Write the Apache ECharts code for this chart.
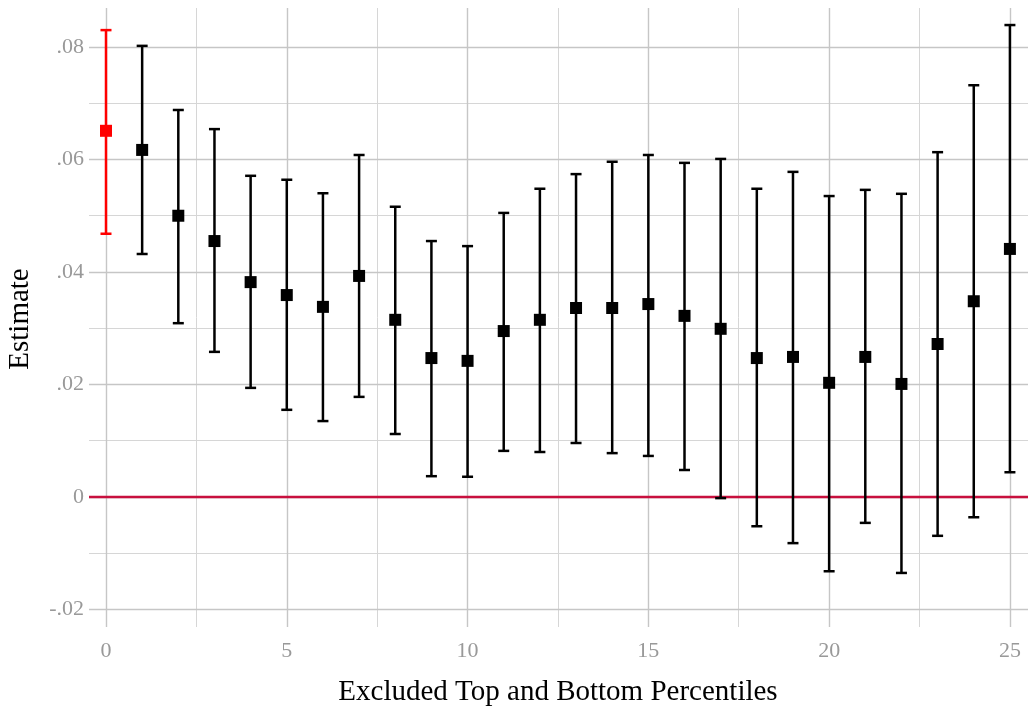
<!DOCTYPE html>
<html>
<head>
<meta charset="utf-8">
<script src="https://cdn.jsdelivr.net/npm/echarts@6/dist/echarts.min.js"></script>
<style>html,body{margin:0;padding:0;background:#fff}#c{width:1028px;height:711px}</style>
</head>
<body>
<div id="c"></div>
<script>
const percentiles = [0,1,2,3,4,5,6,7,8,9,10,11,12,13,14,15,16,17,18,19,20,21,22,23,24,25];
const estimates = [0.0651,0.0617,0.0500,0.0455,0.0382,0.0359,0.0338,0.0393,0.0315,0.0247,0.0242,0.0295,0.0315,0.0336,0.0336,0.0343,0.0322,0.0299,0.0247,0.0249,0.0203,0.0249,0.0201,0.0272,0.0348,0.0441];
const upper = [0.0830,0.0802,0.0688,0.0654,0.0571,0.0564,0.0540,0.0608,0.0516,0.0455,0.0446,0.0505,0.0548,0.0574,0.0596,0.0608,0.0594,0.0601,0.0548,0.0578,0.0535,0.0546,0.0539,0.0613,0.0732,0.0839];
const lower = [0.0468,0.0432,0.0309,0.0258,0.0194,0.0155,0.0135,0.0178,0.0112,0.0037,0.0036,0.0082,0.0080,0.0096,0.0078,0.0073,0.0048,-0.0002,-0.0052,-0.0082,-0.0132,-0.0046,-0.0135,-0.0069,-0.0036,0.0044];
const xTicks = [0,5,10,15,20,25];
const xMinor = [2.5,7.5,12.5,17.5,22.5];
const yTicks = [-0.02,0,0.02,0.04,0.06,0.08];
const yMinor = [-0.01,0.01,0.03,0.05,0.07];
const xTitle = 'Excluded Top and Bottom Percentiles';
const yTitle = 'Estimate';

const FONT = 'Liberation Serif';
const rows = percentiles.map((p,i)=>[p, estimates[i], lower[i], upper[i]]);

function fmtY(v){
  if (Math.abs(v) < 1e-9) return '0';
  return v.toFixed(2).replace('0.', '.');
}

const chart = echarts.init(document.getElementById('c'), null, {renderer:'canvas'});
chart.setOption({
  animation:false,
  backgroundColor:'#fff',
  grid:{left:89,right:0,top:8,bottom:84,containLabel:false,outerBoundsMode:'none'},
  graphic:[
    {type:'text', x:558, y:692, style:{text:xTitle, fill:'#000', font:'29px "Liberation Serif"', align:'center', verticalAlign:'middle'}},
    {type:'text', x:20, y:319, rotation:Math.PI/2, style:{text:yTitle, fill:'#000', font:'29px "Liberation Serif"', align:'center', verticalAlign:'middle'}}
  ],
  xAxis:{
    type:'value', min:-0.47, max:25.5,
    axisLine:{show:false}, axisTick:{show:false}, splitLine:{show:false},
    axisLabel:{customValues:xTicks, color:'#999999', fontFamily:FONT, fontSize:22, margin:13}
  },
  yAxis:{
    type:'value', min:-0.02311, max:0.08693,
    axisLine:{show:false}, axisTick:{show:false}, splitLine:{show:false},
    axisLabel:{customValues:yTicks, formatter:fmtY, color:'#999999', fontFamily:FONT, fontSize:22, margin:5}
  },
  series:[
    {
      type:'line', data:[], silent:true,
      markLine:{
        silent:true, symbol:'none', label:{show:false}, animation:false,
        data:[].concat(
          yMinor.map(v=>({yAxis:v, lineStyle:{color:'#d6d6d6', width:1, type:'solid'}})),
          xMinor.map(v=>({xAxis:v, lineStyle:{color:'#d6d6d6', width:1, type:'solid'}})),
          yTicks.map(v=>({yAxis:v, lineStyle:{color:'#c6c6c6', width:1.4, type:'solid'}})),
          xTicks.map(v=>({xAxis:v, lineStyle:{color:'#c6c6c6', width:1.4, type:'solid'}}))
        )
      }
    },
    {
      type:'line', data:[], silent:true, z:3,
      markLine:{
        silent:true, symbol:'none', label:{show:false}, animation:false,
        data:[{yAxis:0, lineStyle:{color:'#c8103e', width:2.3, type:'solid'}}]
      }
    },
    {
      type:'custom', z:5,
      data: rows,
      encode:{x:0, y:1},
      renderItem:function(params, api){
        const x = api.value(0);
        const pm = api.coord([x, api.value(1)]);
        const plo = api.coord([x, api.value(2)]);
        const phi = api.coord([x, api.value(3)]);
        const col = x === 0 ? '#ff0000' : '#000000';
        const cap = 5.5, sq = 6;
        const ls = {stroke:col, lineWidth:2.5};
        return {type:'group', children:[
          {type:'line', shape:{x1:pm[0],y1:plo[1],x2:pm[0],y2:phi[1]}, style:ls},
          {type:'line', shape:{x1:pm[0]-cap,y1:plo[1],x2:pm[0]+cap,y2:plo[1]}, style:ls},
          {type:'line', shape:{x1:pm[0]-cap,y1:phi[1],x2:pm[0]+cap,y2:phi[1]}, style:ls},
          {type:'rect', shape:{x:pm[0]-sq,y:pm[1]-sq,width:2*sq,height:2*sq}, style:{fill:col}}
        ]};
      }
    }
  ]
});
</script>
</body>
</html>
